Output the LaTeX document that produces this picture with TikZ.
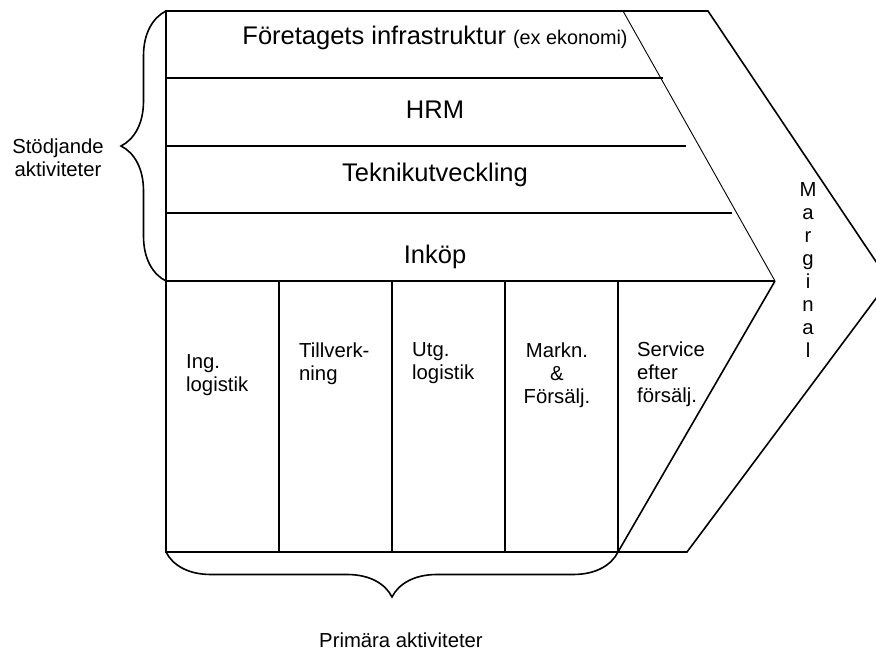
\documentclass[tikz,border=0pt]{standalone}
\usepackage{fontspec}
\setmainfont{Liberation Sans}
\usetikzlibrary{decorations.pathreplacing}

\tikzset{
  edge/.style={line width=1.6pt, line join=miter},
  thinedge/.style={line width=0.9pt},
  curly/.style={decorate, decoration={brace, amplitude=45pt}, line width=1.6pt},
  support/.style={font=\fontsize{25.5}{29}\selectfont, anchor=base, inner sep=0pt},
  primary/.style={font=\fontsize{20.3}{23}\selectfont, align=left, anchor=north west, inner sep=0pt},
}

\begin{document}
\begin{tikzpicture}[x=1pt, y=-1pt]
  \useasboundingbox (0,0) rectangle (876,650);
  \coordinate (topleft) at (166,11);
  \coordinate (topright) at (708,11);
  \coordinate (tip) at (889,281);
  \coordinate (botright) at (687,552);
  \coordinate (botleft) at (166,552);
  \coordinate (inntop) at (623,11);
  \coordinate (innmid) at (775,281);
  \coordinate (innbot) at (618,552);
  \coordinate (primleft) at (166,281);

  \draw[edge] (topleft) -- (topright) -- (tip) -- (botright) -- (botleft) -- cycle;
  \draw[thinedge] (inntop) -- (innmid);
  \draw[edge] (innmid) -- (innbot);
  \draw[edge] (primleft) -- (innmid);
  \draw[edge] (166,78) -- (663,78);
  \draw[edge] (166,146) -- (686,146);
  \draw[edge] (166,213) -- (732,213);
  \foreach \x in {279,392,505,618}
    \draw[edge] (\x,281) -- (\x,552);

  \draw[curly] (primleft) -- (topleft);
  \draw[curly] (innbot) -- (botleft);

  \node[support] (infra) at (435,45) {Företagets infrastruktur {\fontsize{19.8}{23}\selectfont (ex ekonomi)}};
  \node[support] (hrm) at (435,119) {HRM};
  \node[support] (tech) at (435,182) {Teknikutveckling};
  \node[support] (inkop) at (435,263) {Inköp};

  \node[primary] (inglog) at (186,354.5) {Ing.\\logistik};
  \node[primary] (tillv) at (299,342.5) {Tillverk-\\ning};
  \node[primary] (utglog) at (412,342.5) {Utg.\\logistik};
  \node[primary, align=center, anchor=north] (markn) at (557,342.5) {Markn.\\\&\\Försälj.};
  \node[primary] (service) at (637,341.5) {Service\\efter\\försälj.};

  \node[primary, align=center, anchor=north] (marginal) at (808,182.7) {M\\a\\r\\g\\i\\n\\a\\l};
  \node[primary, align=center, anchor=north] (stod) at (58,138.4) {Stödjande\\aktiviteter};
  \node[primary, anchor=base] (prim) at (401,647) {Primära aktiviteter};
\end{tikzpicture}
\end{document}
